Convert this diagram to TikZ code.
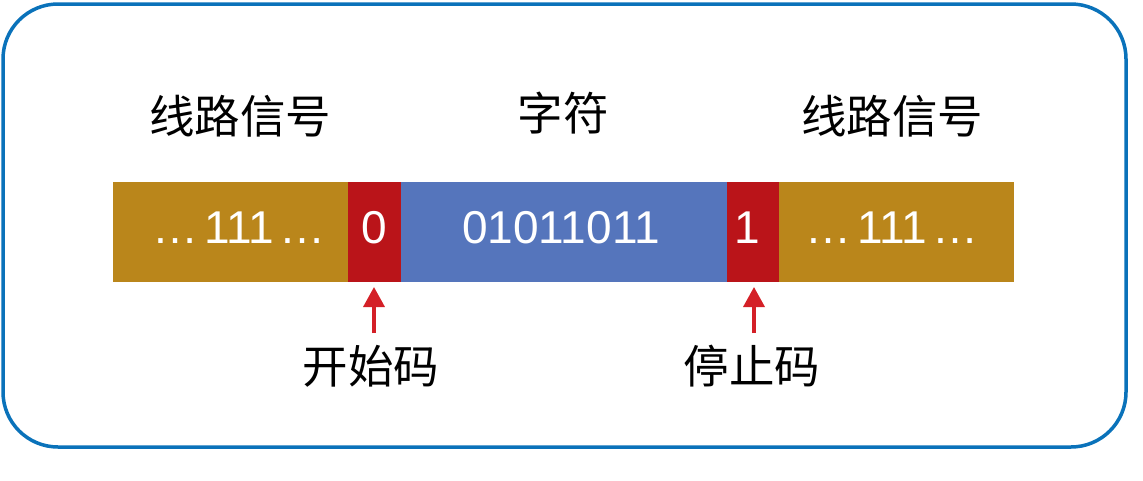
\documentclass[tikz,border=0pt]{standalone}
\usepackage{fontspec}
\setmainfont{Liberation Sans}
\newfontfamily\cjk{Noto Sans CJK SC}
\usetikzlibrary{arrows.meta}
\definecolor{frameblue}{HTML}{0A72BA}
\definecolor{segbrown}{HTML}{BA861B}
\definecolor{segred}{HTML}{BA1419}
\definecolor{segblue}{HTML}{5575BC}
\definecolor{arrred}{HTML}{D42027}
\tikzset{
  seg/.style={draw=none, minimum height=100pt, inner sep=0pt, outer sep=0pt},
  bits/.style={inner sep=0pt, text=white, font=\fontsize{46}{46}\selectfont},
  lbl/.style={inner sep=0pt, font=\cjk\fontsize{45.5}{45.5}\selectfont},
  marker/.style={draw=arrred, line width=3.5pt, -{Triangle[width=21pt,length=20pt]}}
}
\begin{document}
\begin{tikzpicture}[x=1pt,y=-1pt]
\useasboundingbox (0,0) rectangle (1143,480);
\fill[white] (0,0) rectangle (1143,480);
\draw[frameblue, line width=3.5pt, rounded corners=55pt] (3,4) rectangle (1126,447);
% bar segments
\node[seg, fill=segbrown, minimum width=235pt] (lw) at (230.5,232) {};
\node[seg, fill=segred, minimum width=53pt] (st) at (374.5,232) {};
\node[seg, fill=segblue, minimum width=326pt] (ch) at (564,232) {};
\node[seg, fill=segred, minimum width=52pt] (sp) at (753,232) {};
\node[seg, fill=segbrown, minimum width=235pt] (rw) at (896.5,232) {};
% bit texts
\node[bits, anchor=base] (lt) at (239,243) {…\hspace{6pt}111\hspace{6pt}…};
\node[bits, anchor=base] (s0) at (374.5,243) {0};
\node[bits, anchor=base] (cb) at (561,243) {01011011};
\node[bits, anchor=base] (s1) at (747,243) {1};
\node[bits, anchor=base] (rt) at (892,243) {…\hspace{6pt}111\hspace{6pt}…};
% labels
\node[lbl] (l1) at (240,116) {线路信号};
\node[lbl] (l2) at (563,113) {字符};
\node[lbl] (l3) at (892,116) {线路信号};
\node[lbl] (b1) at (371,366) {开始码};
\node[lbl] (b2) at (752,366) {停止码};
% arrows
\coordinate (a1) at (374,333);
\coordinate (a2) at (754,333);
\coordinate (t1) at (374,287);
\coordinate (t2) at (754,287);
\draw[marker] (a1) -- (t1);
\draw[marker] (a2) -- (t2);
\end{tikzpicture}
\end{document}
